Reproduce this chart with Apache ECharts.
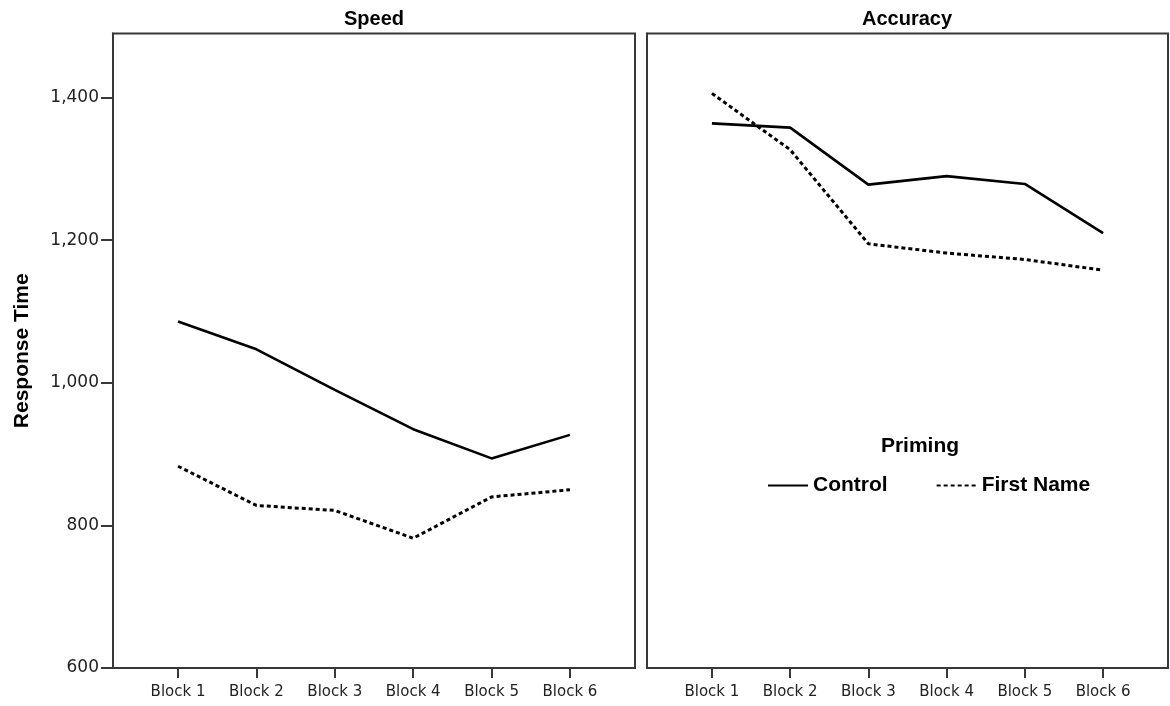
<!DOCTYPE html>
<html>
<head>
<meta charset="utf-8">
<script src="https://cdn.jsdelivr.net/npm/echarts@6/dist/echarts.min.js"></script>
<style>
html,body{margin:0;padding:0;background:#fff;}
#chart{width:1170px;height:706px;}
</style>
</head>
<body>
<div id="chart"></div>
<script>
const blocks = ['Block 1', 'Block 2', 'Block 3', 'Block 4', 'Block 5', 'Block 6'];
const speedControl = [1086, 1047, 990, 935, 894, 927];
const speedFirstName = [883, 828, 821, 782, 840, 850];
const accuracyControl = [1364, 1358, 1278, 1290, 1279, 1210];
const accuracyFirstName = [1406, 1327, 1195, 1182, 1173, 1158];
const yTicks = [600, 800, 1000, 1200, 1400];
const panelTitles = ['Speed', 'Accuracy'];
const legendTitle = 'Priming';
const seriesNames = ['Control', 'First Name'];

const blockIdx = blocks.map((b, i) => i);
const toPairs = arr => arr.map((v, i) => [i, v]);
const fmtNum = v => String(v).replace(/\B(?=(\d{3})+(?!\d))/g, ',');

const frameColor = '#383838';
const labelFont = 'DejaVu Sans';
const boldFont = 'Liberation Sans';

function xAxisFor(g) {
  return {
    type: 'value', gridIndex: g, min: -0.83, max: 5.83,
    axisLine: { show: true, onZero: false, lineStyle: { color: frameColor, width: 2 } },
    axisTick: { show: true, length: 10, customValues: blockIdx, lineStyle: { color: frameColor, width: 2 } },
    axisLabel: { show: true, customValues: blockIdx, formatter: v => blocks[Math.round(v)] || '',
      margin: 17, fontFamily: labelFont, fontSize: 15, color: '#222' },
    splitLine: { show: false }
  };
}
function yAxisFor(g, withLabels) {
  return {
    type: 'value', gridIndex: g, min: 600, max: 1490,
    name: withLabels ? 'Response Time' : '',
    nameLocation: 'middle', nameGap: 80,
    nameTextStyle: { fontFamily: boldFont, fontWeight: 'bold', fontSize: 21, color: '#000' },
    axisLine: { show: true, onZero: false, lineStyle: { color: frameColor, width: 2 } },
    axisTick: { show: withLabels, length: 12, customValues: yTicks, lineStyle: { color: frameColor, width: 2 } },
    axisLabel: { show: withLabels, customValues: yTicks, formatter: v => fmtNum(v),
      margin: 14, padding: [5, 0, 0, 0], fontFamily: labelFont, fontSize: 17, color: '#222' },
    splitLine: { show: false }
  };
}
function lineSeries(name, data, g, dotted) {
  return {
    name: name, type: 'line', xAxisIndex: g, yAxisIndex: g,
    data: toPairs(data), symbol: 'none', silent: true, animation: false,
    lineStyle: dotted ? { color: '#000', width: 3, type: [4, 3] } : { color: '#000', width: 2.6, type: 'solid' },
    itemStyle: { color: '#000' }
  };
}

const chart = echarts.init(document.getElementById('chart'));
chart.setOption({
  animation: false,
  backgroundColor: '#fff',
  grid: [
    { left: 113, top: 33.5, width: 522, height: 634.5, show: true, borderColor: frameColor, borderWidth: 2, backgroundColor: '#fff' },
    { left: 647, top: 33.5, width: 521, height: 634.5, show: true, borderColor: frameColor, borderWidth: 2, backgroundColor: '#fff' }
  ],
  xAxis: [xAxisFor(0), xAxisFor(1)],
  yAxis: [yAxisFor(0, true), yAxisFor(1, false)],
  legend: {
    data: seriesNames, left: 767, top: 475, padding: 0,
    itemWidth: 40, itemHeight: 14, itemGap: 48,
    itemStyle: { opacity: 0 },
    textStyle: { fontFamily: boldFont, fontWeight: 'bold', fontSize: 21, color: '#000' },
    selectedMode: false
  },
  graphic: [
    { type: 'text', x: 374, y: 19, style: { text: panelTitles[0], fontFamily: boldFont, fontWeight: 'bold', fontSize: 20, fill: '#000', align: 'center', verticalAlign: 'middle' } },
    { type: 'text', x: 907, y: 19, style: { text: panelTitles[1], fontFamily: boldFont, fontWeight: 'bold', fontSize: 20, fill: '#000', align: 'center', verticalAlign: 'middle' } },
    { type: 'text', x: 920, y: 446, style: { text: legendTitle, fontFamily: boldFont, fontWeight: 'bold', fontSize: 21, fill: '#000', align: 'center', verticalAlign: 'middle' } }
  ],
  series: [
    lineSeries(seriesNames[0], speedControl, 0, false),
    lineSeries(seriesNames[1], speedFirstName, 0, true),
    lineSeries(seriesNames[0], accuracyControl, 1, false),
    lineSeries(seriesNames[1], accuracyFirstName, 1, true)
  ]
});
</script>
</body>
</html>
